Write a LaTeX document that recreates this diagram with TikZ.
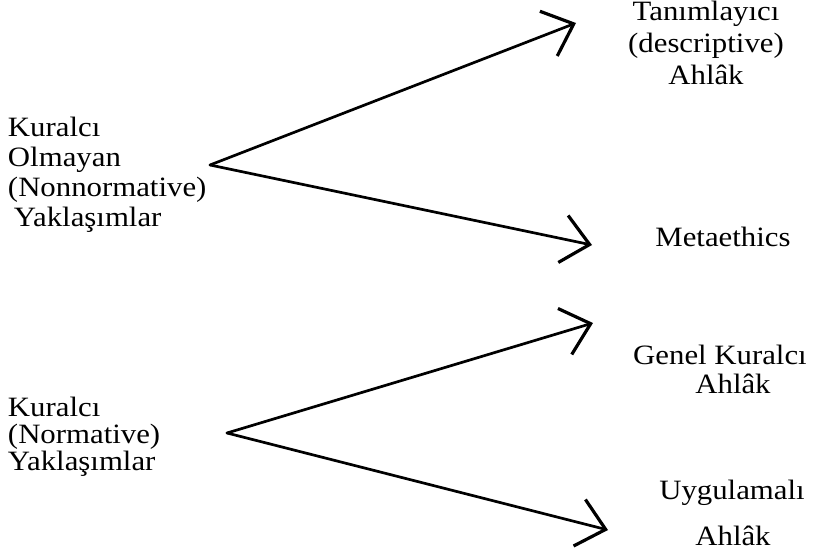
\documentclass[tikz,border=0pt]{standalone}
\usepackage{fontspec}
\setmainfont{Liberation Serif}[FakeStretch=1.1]
\usetikzlibrary{arrows.meta}
\begin{document}
\begin{tikzpicture}[x=1pt,y=-1pt,
  lbl/.style={inner sep=0pt, outer sep=0pt, font=\fontsize{28}{30}\selectfont},
  conn/.style={line width=2.7pt, line cap=round,
    -{Straight Barb[length=27pt,width=48pt,line width=3.2pt]}}]
\useasboundingbox (0,0) rectangle (815,557);
% left blocks
\node[lbl, anchor=north west, align=left] (nonnorm) at (8,117)
  {Kuralcı\\Olmayan\\(Nonnormative)\\\hspace*{6pt}Yaklaşımlar};
\node[lbl, anchor=north west, align=left, font=\fontsize{28}{27}\selectfont] (norm) at (8,397)
  {Kuralcı\\(Normative)\\Yaklaşımlar};
% right labels
\node[lbl, anchor=north, align=center, font=\fontsize{28}{32}\selectfont] (desc) at (706,1)
  {Tanımlayıcı\\(descriptive)\\Ahlâk};
\node[lbl, anchor=base] (meta) at (723,246) {Metaethics};
\node[lbl, anchor=base] (genel) at (720,364) {Genel Kuralcı};
\node[lbl, anchor=base] (genelb) at (733,393) {Ahlâk};
\node[lbl, anchor=base] (uyg) at (732,499) {Uygulamalı};
\node[lbl, anchor=base] (uygb) at (733,545) {Ahlâk};
% apexes and tips
\coordinate (a1) at (210,165);
\coordinate (t1) at (576,23);
\coordinate (t2) at (592,245);
\coordinate (a2) at (227,433);
\coordinate (t3) at (593,323);
\coordinate (t4) at (608,530);
\draw[conn] (a1) -- (t1);
\draw[conn] (a1) -- (t2);
\draw[conn] (a2) -- (t3);
\draw[conn] (a2) -- (t4);
\end{tikzpicture}
\end{document}
